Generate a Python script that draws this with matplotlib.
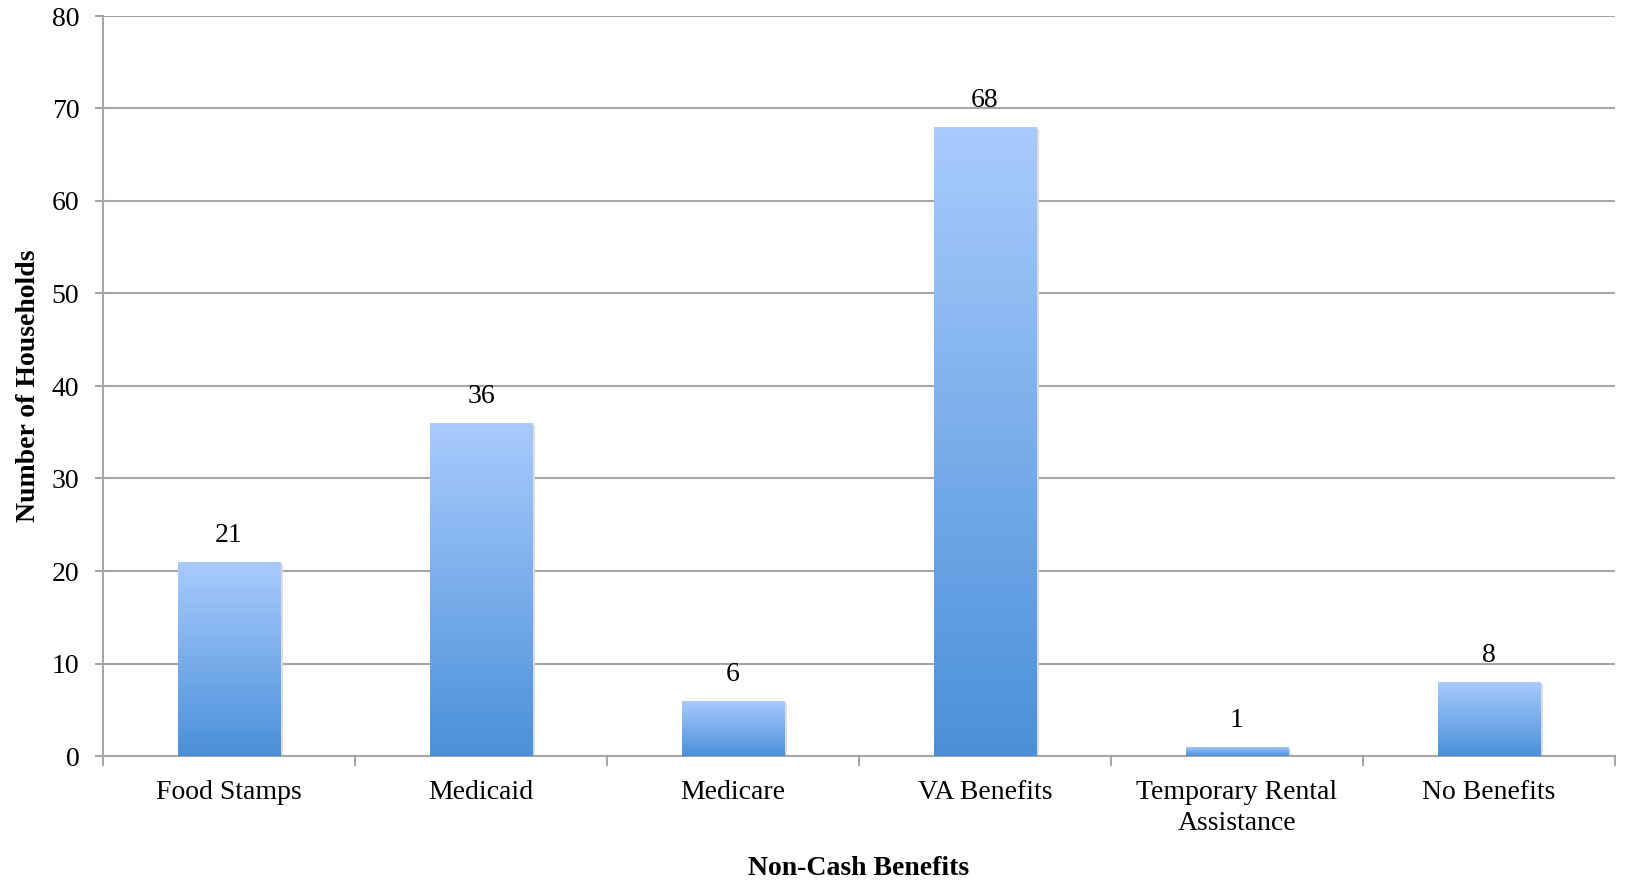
import numpy as np
import matplotlib.pyplot as plt
from matplotlib.colors import LinearSegmentedColormap

# data
categories = ['Food Stamps', 'Medicaid', 'Medicare', 'VA Benefits',
              'Temporary Rental\nAssistance', 'No Benefits']
households = [21, 36, 6, 68, 1, 8]

plt.rcParams['font.family'] = ['Liberation Serif', 'DejaVu Serif']

fig = plt.figure(figsize=(16.25, 8.8), dpi=100)
ax = fig.add_axes([103/1625, 1 - 756/880, (1615 - 103)/1625, (756 - 16)/880])

x = np.arange(len(categories))
bar_w = 0.405
bars = ax.bar(x, households, width=bar_w, color='none', edgecolor='none', zorder=3)

# vertical gradient in each bar
grad_cmap = LinearSegmentedColormap.from_list('blu', ['#4a90d9', '#a9cbfd'])
grad = np.linspace(0, 1, 256).reshape(-1, 1)
for b in bars:
    x0, y0 = b.get_x(), b.get_y()
    w, h = b.get_width(), b.get_height()
    # faint shadow
    ax.bar(x0 + w/2 + 0.012, h, width=w, bottom=-0.25, color='#dcdcdc',
           edgecolor='none', zorder=2.5)
    im = ax.imshow(grad, cmap=grad_cmap, origin='lower', aspect='auto',
                   extent=[x0, x0 + w, y0, y0 + h], zorder=3)
    im.set_clip_path(b)

for xi, v in zip(x, households):
    ax.annotate(str(v), (xi, v), xytext=(0, 10), textcoords='offset points',
                ha='center', va='bottom', fontsize=20)

ax.set_xlim(-0.5, len(categories) - 0.5)
ax.set_ylim(0, 80)
ax.set_yticks(np.arange(0, 81, 10))
ax.yaxis.grid(True, color='#a6a6a6', linewidth=1.5, zorder=0)
ax.set_axisbelow(True)

ax.set_xticks(x)
ax.set_xticklabels(categories, fontsize=20, linespacing=1.35)
ax.set_xticks(np.arange(-0.5, len(categories), 1), minor=True)
ax.tick_params(axis='x', which='major', length=0, pad=17)
ax.tick_params(axis='x', which='minor', length=7, width=1.5, color='#a6a6a6')
ax.tick_params(axis='y', length=6, width=1.5, color='#a6a6a6', labelsize=20, pad=11)

for s in ['top', 'right']:
    ax.spines[s].set_visible(False)
for s in ['left', 'bottom']:
    ax.spines[s].set_color('#a6a6a6')
    ax.spines[s].set_linewidth(1.5)

ax.set_ylabel('Number of Households', fontsize=20, fontweight='bold', labelpad=8)
ax.set_xlabel('Non-Cash Benefits', fontsize=20, fontweight='bold', labelpad=14)

fig.savefig('out.png', dpi=100)
